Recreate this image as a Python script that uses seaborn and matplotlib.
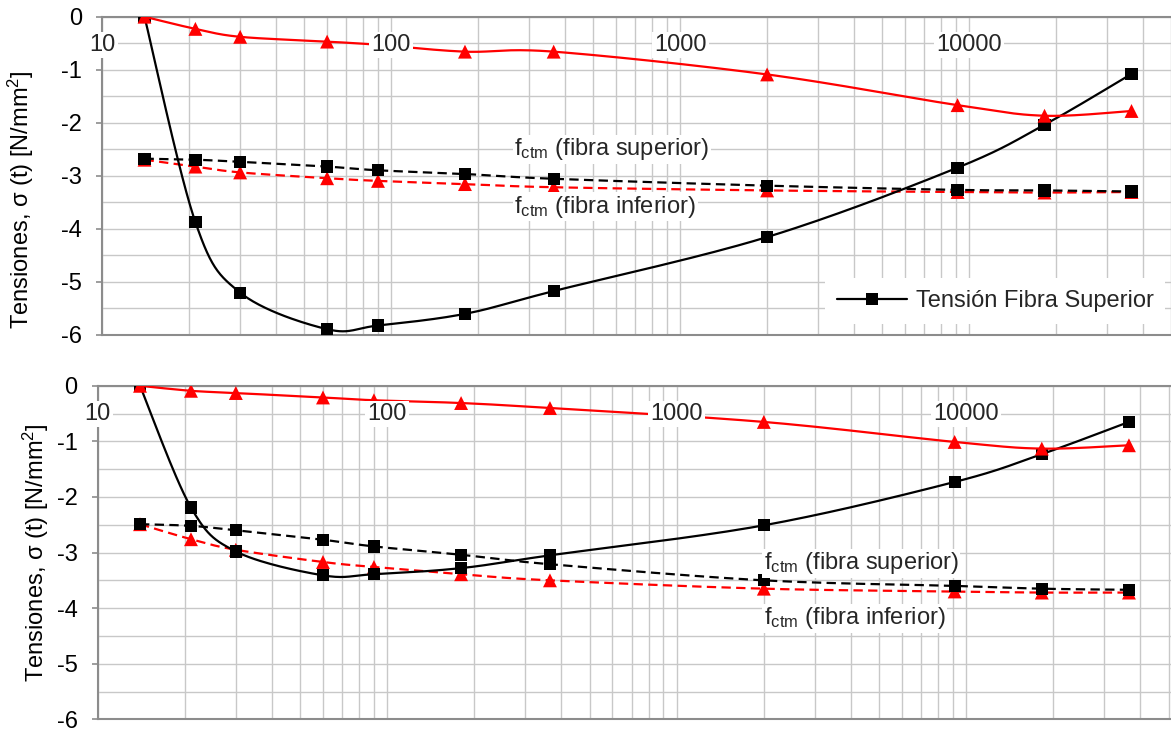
import numpy as np
import matplotlib
matplotlib.use("Agg")
import matplotlib.pyplot as plt
import seaborn as sns
from matplotlib.lines import Line2D
from matplotlib.ticker import LogLocator, NullFormatter

# ---------------- data ----------------
tiempo = [14, 21, 30, 60, 90, 180, 365, 2000, 9125, 18250, 36500]

# upper chart
sup_tension_fs = [0.0, -3.88, -5.21, -5.90, -5.83, -5.61, -5.18, -4.16, -2.85, -2.04, -1.08]
sup_tension_fi = [0.0, -0.23, -0.38, -0.47, -0.53, -0.66, -0.66, -1.09, -1.67, -1.87, -1.78]
sup_fctm_fs = [-2.68, -2.70, -2.74, -2.83, -2.90, -2.97, -3.06, -3.19, -3.27, -3.28, -3.30]
sup_fctm_fi = [-2.70, -2.83, -2.94, -3.05, -3.10, -3.16, -3.22, -3.28, -3.31, -3.32, -3.31]

# lower chart
inf_tension_fs = [0.0, -2.19, -2.98, -3.41, -3.39, -3.28, -3.05, -2.51, -1.73, -1.23, -0.65]
inf_tension_fi = [0.0, -0.09, -0.13, -0.21, -0.26, -0.31, -0.40, -0.65, -1.01, -1.13, -1.07]
inf_fctm_fs = [-2.49, -2.52, -2.60, -2.77, -2.89, -3.04, -3.21, -3.50, -3.60, -3.65, -3.67]
inf_fctm_fi = [-2.49, -2.76, -2.95, -3.17, -3.26, -3.39, -3.50, -3.65, -3.70, -3.72, -3.72]

x_ticks = [10, 100, 1000, 10000]
x_tick_labels = ["10", "100", "1000", "10000"]
y_ticks = [0, -1, -2, -3, -4, -5, -6]
y_tick_labels = ["0", "-1", "-2", "-3", "-4", "-5", "-6"]

legend_label = "Tensión Fibra Superior"
label_fs = "f$_{ctm}$ (fibra superior)"
label_fi = "f$_{ctm}$ (fibra inferior)"
ylabel = "Tensiones, σ (t) [N/mm$^2$]"
xlabel = "Tiempo [días]"

# ---------------- style ----------------
sns.set_theme(style="white")
plt.rcParams['font.family'] = ['Liberation Sans', 'DejaVu Sans']
plt.rcParams['mathtext.default'] = 'regular'
plt.rcParams['axes.unicode_minus'] = False

FS = 17
GRID = '#c8c8c8'
SPINE = '#8c8c8c'
RED = '#ff0000'


def smooth(x, y, n=30):
    """Excel-like smoothed line (Bezier through the points, in log-x space)."""
    P = np.column_stack([np.log10(np.asarray(x, float)), np.asarray(y, float)])
    out = [P[0]]
    t = np.linspace(0, 1, n)[1:, None]
    for i in range(len(P) - 1):
        p0 = P[i - 1] if i > 0 else P[i]
        p1, p2 = P[i], P[i + 1]
        p3 = P[i + 2] if i + 2 < len(P) else P[i + 1]
        c1 = p1 + (p2 - p0) / 6.0
        c2 = p2 - (p3 - p1) / 6.0
        b = (1 - t) ** 3 * p1 + 3 * (1 - t) ** 2 * t * c1 + 3 * (1 - t) * t ** 2 * c2 + t ** 3 * p2
        out.extend(b)
    out = np.array(out)
    return 10 ** out[:, 0], out[:, 1]


def series(ax, y, color, marker, dashed, z):
    xs, ys = smooth(tiempo, y)
    sns.lineplot(x=xs, y=ys, sort=False, estimator=None, color=color, lw=1.6, ax=ax, zorder=z)
    line = ax.lines[-1]
    if dashed:
        line.set_dashes((4.2, 2.4))
    size = 78 if marker == 's' else 100
    sns.scatterplot(x=tiempo, y=y, marker=marker, s=size, color=color, edgecolor='none',
                    linewidth=0, ax=ax, zorder=z + 0.05, legend=False)


def setup(ax, xmax, label_y):
    ax.set_xscale('log')
    ax.set_xlim(10, xmax)
    ax.set_ylim(-6, 0)
    ax.xaxis.set_major_locator(LogLocator(base=10, numticks=10))
    ax.xaxis.set_minor_locator(LogLocator(base=10, subs=np.arange(2, 10), numticks=50))
    ax.xaxis.set_minor_formatter(NullFormatter())
    ax.set_yticks(y_ticks)
    ax.set_yticklabels(y_tick_labels)
    ax.set_yticks(np.arange(-5.5, 0, 1.0), minor=True)
    ax.grid(which='both', axis='both', color=GRID, lw=1.0)
    ax.set_axisbelow(True)
    ax.tick_params(axis='x', which='both', bottom=False, top=False, labelbottom=False, labeltop=False)
    ax.tick_params(axis='y', which='major', left=True, length=4.5, width=1.2, color=SPINE,
                   pad=10, labelsize=FS, labelcolor='black')
    ax.tick_params(axis='y', which='minor', left=False, length=0)
    for s in ['left', 'top', 'bottom']:
        ax.spines[s].set_color(SPINE)
        ax.spines[s].set_linewidth(1.5)
        ax.spines[s].set_visible(True)
    ax.spines['right'].set_visible(False)
    for xt, lab in zip(x_ticks, x_tick_labels):
        ax.text(xt, label_y, lab, ha='center', va='center', fontsize=FS, zorder=8,
                bbox=dict(fc='white', ec='none', pad=1.5), clip_on=False)


W, H = 1171, 752
fig = plt.figure(figsize=(W / 100, H / 100), dpi=100)
fig.patch.set_facecolor('white')

# top axes
ax1 = fig.add_axes([102.3 / W, 1 - 334.5 / H, (W - 102.3) / W, (334.5 - 16.7) / H])
# bottom axes
ax2 = fig.add_axes([97.7 / W, 1 - 719.3 / H, (W - 97.7) / W, (719.3 - 385.8) / H])

for ax in (ax1, ax2):
    ax.set_facecolor('white')

setup(ax1, 50000, -0.54)
setup(ax2, 51000, -0.51)

series(ax1, sup_fctm_fi, RED, '^', True, 3.0)
series(ax1, sup_fctm_fs, 'black', 's', True, 3.2)
series(ax1, sup_tension_fs, 'black', 's', False, 3.4)
series(ax1, sup_tension_fi, RED, '^', False, 3.6)

series(ax2, inf_fctm_fi, RED, '^', True, 3.0)
series(ax2, inf_fctm_fs, 'black', 's', True, 3.2)
series(ax2, inf_tension_fs, 'black', 's', False, 3.4)
series(ax2, inf_tension_fi, RED, '^', False, 3.6)

box = dict(fc='white', ec='none', pad=1.0)
ax1.text(267, -2.50, label_fs, ha='left', va='center', fontsize=FS, zorder=7, bbox=box)
ax1.text(267, -3.59, label_fi, ha='left', va='center', fontsize=FS, zorder=7, bbox=box)
ax2.text(2000, -3.19, label_fs, ha='left', va='center', fontsize=FS, zorder=7, bbox=box)
ax2.text(2000, -4.18, label_fi, ha='left', va='center', fontsize=FS, zorder=7, bbox=box)

handle = Line2D([], [], color='black', lw=1.6, marker='s', markersize=9, markeredgewidth=0)
leg = ax1.legend([handle], [legend_label], loc='center',
                 bbox_to_anchor=(995 / W, 1 - 301 / H), bbox_transform=fig.transFigure,
                 frameon=True, fancybox=False, framealpha=1, facecolor='white', edgecolor='none',
                 fontsize=FS, handlelength=3.0, handletextpad=0.35, borderpad=0.5)
leg.set_zorder(9)

ax1.set_ylabel(ylabel, fontsize=FS, va='center', color='black')
ax1.yaxis.set_label_coords((21 - 102.3) / (W - 102.3), 1 - (200 - 16.7) / (334.5 - 16.7))
ax2.set_ylabel(ylabel, fontsize=FS, va='center', color='black')
ax2.yaxis.set_label_coords((36 - 97.7) / (W - 97.7), 0.5)
ax2.set_xlabel(xlabel, fontsize=FS, va='center', color='black')
ax2.xaxis.set_label_coords((633 - 97.7) / (W - 97.7), -(740 - 719.3) / (719.3 - 385.8))

fig.savefig('out.png', dpi=100, facecolor='white')
